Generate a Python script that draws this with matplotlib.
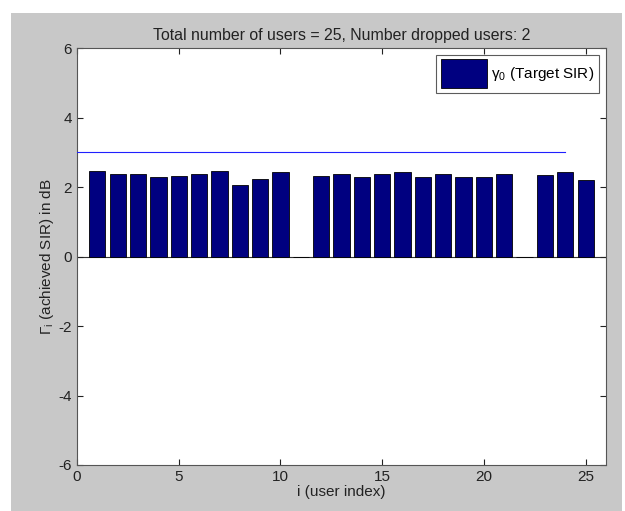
import matplotlib
matplotlib.use("Agg")
import matplotlib.pyplot as plt
from matplotlib.patches import Rectangle

plt.rcParams['font.family'] = ['Liberation Sans', 'DejaVu Sans']
plt.rcParams['axes.unicode_minus'] = False
plt.rcParams['mathtext.fontset'] = 'custom'
plt.rcParams['mathtext.rm'] = 'Liberation Sans'
plt.rcParams['mathtext.it'] = 'Liberation Sans'

# achieved SIR per user in dB (users 11 and 22 dropped)
users = list(range(1, 26))
sir_db = [2.46, 2.38, 2.36, 2.30, 2.33, 2.38, 2.46, 2.07, 2.24, 2.42,
          0.0, 2.33, 2.38, 2.29, 2.38, 2.43, 2.30, 2.36, 2.30, 2.30,
          2.36, 0.0, 2.35, 2.43, 2.21]
target_x = [0, 24]
target_db = [3.0, 3.0]

fig = plt.figure(figsize=(6.25, 5.11), dpi=100, facecolor='white')
# grey figure area like the matlab window
fig.patches.append(Rectangle((11/625, 0), 611/625, 498/511, transform=fig.transFigure,
                             facecolor='#c8c8c8', edgecolor='none', zorder=-10))

ax = fig.add_axes([77/625, 1 - 465/511, 529/625, 417/511])
ax.set_facecolor('white')

ax.bar(users, sir_db, width=0.8, color='#000080', edgecolor='black', linewidth=0.6,
       label=r'$\gamma_0$ (Target SIR)', zorder=2)
ax.axhline(0, color='#333333', linewidth=0.8, zorder=1)
ax.plot(target_x, target_db, color='#2020ff', linewidth=0.8, zorder=3)

ax.set_xlim(0, 26)
ax.set_ylim(-6, 6)
ax.set_xticks([0, 5, 10, 15, 20, 25])
ax.set_yticks([-6, -4, -2, 0, 2, 4, 6])
ax.tick_params(direction='in', top=True, right=True, labelsize=11, colors='#222222', length=4)
for s in ax.spines.values():
    s.set_color('#555555')

ax.set_title('Total number of users = 25, Number dropped users: 2', fontsize=11.4, color='#222222', pad=6)
ax.set_xlabel('i (user index)', fontsize=11, color='#222222', labelpad=1)
ax.set_ylabel(r'$\Gamma_\mathrm{i}$ (achieved SIR) in dB', fontsize=11, color='#222222', labelpad=2)

leg = ax.legend(loc='upper right', fontsize=11, frameon=True, fancybox=False,
                handlelength=3.0, handleheight=2.5, handletextpad=0.3,
                borderpad=0.3, borderaxespad=0.45)
leg.get_frame().set_edgecolor('#333333')
leg.get_frame().set_linewidth(0.8)

plt.savefig('out.png', dpi=100)
